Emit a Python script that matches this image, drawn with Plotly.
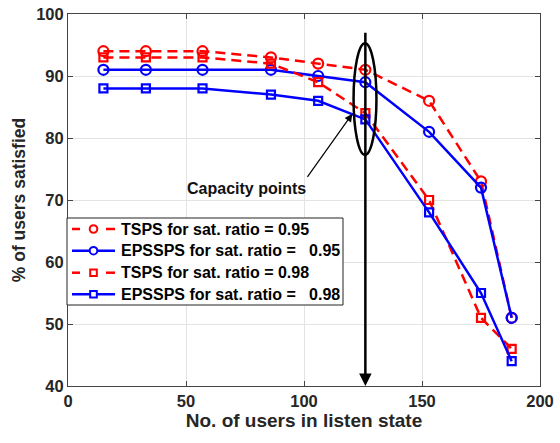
import plotly.graph_objects as go

x_users = [15, 33, 57, 86, 106, 126, 153, 175, 188]
tsps_095 = [94, 94, 94, 93, 92, 91, 86, 73, 51]
epssps_095 = [91, 91, 91, 91, 90, 89, 81, 72, 51]
tsps_098 = [93, 93, 93, 92, 89, 84, 70, 51, 46]
epssps_098 = [88, 88, 88, 87, 86, 83, 68, 55, 44]

names = ["TSPS for sat. ratio = 0.95",
         "EPSSPS for sat. ratio =\u00a0\u00a0\u00a00.95",
         "TSPS for sat. ratio = 0.98",
         "EPSSPS for sat. ratio =\u00a0\u00a0\u00a00.98"]

font_fam = "Liberation Sans, Arial, sans-serif"
fig = go.Figure()
series = [
    (tsps_095, "red", "10px,6px", "circle-open", 10),
    (epssps_095, "blue", "solid", "circle-open", 10),
    (tsps_098, "red", "10px,6px", "square-open", 8),
    (epssps_098, "blue", "solid", "square-open", 8),
]
for (ys, col, dash, sym, sz), nm in zip(series, names):
    fig.add_trace(go.Scatter(
        x=x_users, y=ys, name=nm, mode="lines+markers", showlegend=False,
        line=dict(color=col, width=2.5, dash=dash),
        marker=dict(symbol=sym, size=sz, color=col, line=dict(width=2.2, color=col)),
    ))

# ellipse around capacity points
fig.add_shape(type="circle", xref="x", yref="y", x0=121, x1=130.7, y0=77.3, y1=95.3,
              line=dict(color="black", width=2.5))
# vertical arrow
fig.add_annotation(x=126, y=40, ax=126, ay=97.2, xref="x", yref="y", axref="x", ayref="y",
                   showarrow=True, arrowhead=2, arrowsize=1, arrowwidth=2.5,
                   arrowcolor="black", text="")
# small arrow from label
fig.add_annotation(x=120.5, y=83.9, ax=101, ay=73.5, xref="x", yref="y", axref="x", ayref="y",
                   showarrow=True, arrowhead=2, arrowsize=1.3, arrowwidth=1.2,
                   arrowcolor="black", text="")
fig.add_annotation(x=75.5, y=71.9, xref="x", yref="y", showarrow=False,
                   text="<b>Capacity points</b>", font=dict(size=16, color="#111", family=font_fam))

# ---- custom legend (plot area: 472 x 372 px) ----
PW, PH = 472.0, 372.0
def px(v):
    return v / PW
def py(v):
    return 1 - v / PH
fig.add_shape(type="rect", xref="paper", yref="paper", x0=px(-1), x1=px(275),
              y0=py(291), y1=py(204), fillcolor="white", line=dict(color="#222", width=1))
row_y = [215, 236.7, 258.7, 280.3]
for (ys, col, dash, sym, sz), nm, ry in zip(series, names, row_y):
    yy = py(ry)
    if dash == "solid":
        fig.add_shape(type="line", xref="paper", yref="paper", x0=px(4), x1=px(47),
                      y0=yy, y1=yy, line=dict(color=col, width=2.5))
    else:
        for a, b in [(4, 12), (38, 47)]:
            fig.add_shape(type="line", xref="paper", yref="paper", x0=px(a), x1=px(b),
                          y0=yy, y1=yy, line=dict(color=col, width=2.5))
    r = 3.8 if sym.startswith("circle") else 3.3
    fig.add_shape(type="circle" if sym.startswith("circle") else "rect",
                  xref="paper", yref="paper", xsizemode="pixel", ysizemode="pixel",
                  xanchor=px(25.5), yanchor=yy, x0=-r, x1=r, y0=-r, y1=r,
                  fillcolor="white", line=dict(color=col, width=2))
    fig.add_annotation(x=px(51), y=yy, xref="paper", yref="paper", xanchor="left",
                       yanchor="middle", showarrow=False, text="<b>" + nm + "</b>",
                       font=dict(size=16, color="black", family=font_fam))

axis_common = dict(
    showline=True, linecolor="#444", linewidth=1, mirror="ticks",
    showgrid=True, gridcolor="#e3e3e3", gridwidth=1, automargin=False,
    ticks="inside", ticklen=5, tickcolor="#444", zeroline=False,
    tickfont=dict(size=16.5, color="#262626", family=font_fam),
)
fig.update_xaxes(range=[0, 200], dtick=50, tickprefix="<b>", ticksuffix="</b>",
                 title=dict(text="<b>No. of users in listen state</b>",
                            font=dict(size=19, color="#262626", family=font_fam), standoff=4),
                 **axis_common)
fig.update_yaxes(range=[40, 100], dtick=10, tickprefix="<b>", ticksuffix="</b>",
                 title=dict(text="<b>% of users satisfied</b>",
                            font=dict(size=17.5, color="#262626", family=font_fam), standoff=6),
                 **axis_common)

fig.update_layout(
    width=560, height=443,
    margin=dict(l=68, r=20, t=14, b=57),
    plot_bgcolor="white", paper_bgcolor="white",
    font=dict(family=font_fam),
    showlegend=False,
)

fig.write_html("out.html")
